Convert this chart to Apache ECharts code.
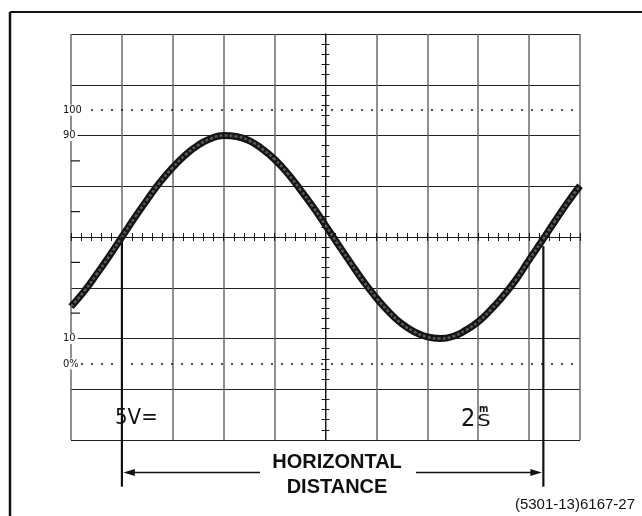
<!DOCTYPE html>
<html>
<head>
<meta charset="utf-8">
<title>Horizontal distance</title>
<script src="https://cdn.jsdelivr.net/npm/echarts@6.0.0/dist/echarts.min.js"></script>
<style>
html, body { margin: 0; padding: 0; background: #fff; }
#scope { width: 642px; height: 516px; }
</style>
</head>
<body>
<div id="scope"></div>
<script>
const traceX = [-5, -4.75, -4.5, -4.25, -4, -3.75, -3.5, -3.25, -3, -2.75, -2.5, -2.25, -2, -1.75, -1.5, -1.25, -1, -0.75, -0.5, -0.25,
  0, 0.25, 0.5, 0.75, 1, 1.25, 1.5, 1.75, 2, 2.25, 2.5, 2.75, 3, 3.25, 3.5, 3.75, 4, 4.25, 4.5, 4.75, 5];
const traceY = [-1.37, -1.08, -0.74, -0.38, 0.0, 0.38, 0.74, 1.08, 1.37, 1.62, 1.81, 1.94, 2.0, 1.98, 1.9, 1.74, 1.53, 1.26, 0.94, 0.6,
  0.23, -0.15, -0.52, -0.88, -1.2, -1.48, -1.71, -1.87, -1.97, -2.0, -1.96, -1.84, -1.67, -1.43, -1.15, -0.83, -0.45, -0.08, 0.3, 0.67, 1.01];
// percent marks at the left edge
const levelValues = [2.5, 2, -2, -2.5];
const levelLabels = ["100", "90", "10", "0%"];
// the two measuring verticals and the arrow between them
const markerX = [-4.0, 4.28];
const markerTop = [0, -0.18];
const markerBottom = -4.92;
const arrowY = -4.64;
const edgeTicks = [1.5, 0.5, -0.5, -1.5];

const ink = "#1a1a1a";

function centreAxis(position, splitColor, splitWidth) {
  return {
    type: "value",
    min: -5,
    max: 5,
    interval: 1,
    position: position,
    axisLine: { show: true, onZero: true, lineStyle: { color: ink, width: 1 } },
    axisTick: { show: true, length: 4, lineStyle: { color: ink, width: 1 } },
    minorTick: { show: true, splitNumber: 5, length: 4, lineStyle: { color: ink, width: 1 } },
    axisLabel: { show: false },
    splitLine: { show: !!splitColor, lineStyle: { color: splitColor || ink, width: splitWidth || 1 } },
  };
}

const chart = echarts.init(document.getElementById("scope"));

const points = traceX.map((x, i) => [x, traceY[i]]);

const option = {
  animation: false,
  backgroundColor: "#fff",
  grid: { left: 71, top: 34, right: 62, bottom: 76 },
  xAxis: [centreAxis("bottom", "#6a6a6a", 1.5), centreAxis("top")],
  yAxis: [
    Object.assign(centreAxis("left", "#222", 1), { min: -4, max: 4 }),
    Object.assign(centreAxis("right"), { min: -4, max: 4 }),
  ],
  series: [
    {
      type: "line",
      data: points,
      smooth: true,
      symbol: "none",
      clip: false,
      z: 3,
      lineStyle: { color: "#141414", width: 7 },
      markLine: {
        silent: true,
        symbol: ["none", "none"],
        label: { show: false },
        lineStyle: { type: [2, 8], color: ink, width: 1.6 },
        data: [{ yAxis: levelValues[0] }, { yAxis: levelValues[3] }],
      },
    },
    {
      type: "line",
      data: points,
      smooth: true,
      symbol: "none",
      clip: false,
      z: 4,
      lineStyle: { color: "#5a5a5a", width: 2.5, type: [3, 2] },
    },
  ],
};

chart.setOption(option);

const px = (x, y) => chart.convertToPixel({ seriesIndex: 0 }, [x, y]);

function text(x, y, str, font, align, extra) {
  return Object.assign({
    type: "text",
    x: x,
    y: y,
    z: 20,
    style: {
      text: str,
      font: font,
      fill: "#111",
      align: align,
      textAlign: align,
      verticalAlign: "middle",
      textVerticalAlign: "middle",
    },
  }, extra || {});
}

const g = [];
// outer frame (top and left only)
g.push({ type: "line", z: 20, shape: { x1: 10, y1: 12, x2: 642, y2: 12 }, style: { stroke: "#111", lineWidth: 2 } });
g.push({ type: "line", z: 20, shape: { x1: 10, y1: 12, x2: 10, y2: 516 }, style: { stroke: "#111", lineWidth: 2.5 } });

// small marks on the left edge
edgeTicks.forEach((v) => {
  const p = px(-5, v);
  g.push({ type: "line", z: 20, shape: { x1: p[0], y1: p[1], x2: p[0] + 9, y2: p[1] }, style: { stroke: ink, lineWidth: 1.2 } });
});

// percent labels
levelValues.forEach((v, i) => {
  const p = px(-5, v);
  const t = text(63, p[1], levelLabels[i], "11px 'Liberation Sans Narrow', 'DejaVu Sans Condensed', sans-serif", "left");
  t.style.backgroundColor = "#fff";
  t.style.padding = [0, 2, 0, 0];
  g.push(t);
});

// measuring verticals
markerX.forEach((x, i) => {
  const a = px(x, markerTop[i]);
  const b = px(x, markerBottom);
  g.push({ type: "line", z: 20, shape: { x1: a[0], y1: a[1], x2: b[0], y2: b[1] }, style: { stroke: "#111", lineWidth: 2.2 } });
});

// arrows
const la = px(markerX[0], arrowY);
const ra = px(markerX[1], arrowY);
const ay = la[1];
g.push({ type: "line", z: 20, shape: { x1: la[0] + 10, y1: ay, x2: 260, y2: ay }, style: { stroke: "#111", lineWidth: 1.6 } });
g.push({ type: "polygon", z: 20, shape: { points: [[la[0] + 1.5, ay], [la[0] + 13, ay - 3.5], [la[0] + 13, ay + 3.5]] }, style: { fill: "#111" } });
g.push({ type: "line", z: 20, shape: { x1: 416, y1: ay, x2: ra[0] - 10, y2: ay }, style: { stroke: "#111", lineWidth: 1.6 } });
g.push({ type: "polygon", z: 20, shape: { points: [[ra[0] - 1.5, ay], [ra[0] - 13, ay - 3.5], [ra[0] - 13, ay + 3.5]] }, style: { fill: "#111" } });

g.push(text(337, 462, "HORIZONTAL", "bold 20px 'Liberation Sans', Arial, sans-serif", "center"));
g.push(text(337, 487, "DISTANCE", "bold 20px 'Liberation Sans', Arial, sans-serif", "center"));

// scope readouts
g.push(text(115, 418, "5V=", "22px 'DejaVu Sans Condensed', 'DejaVu Sans', sans-serif", "left"));
g.push(text(461, 419, "2", "25px 'DejaVu Sans Condensed', 'DejaVu Sans', sans-serif", "left"));
g.push(text(479, 409, "m", "bold 10px 'DejaVu Sans Condensed', sans-serif", "left"));
g.push(text(477, 422, "S", "16px 'DejaVu Sans Condensed', sans-serif", "left", { scaleX: 1.5 }));

g.push(text(635, 505, "(5301-13)6167-27", "15px 'Liberation Sans', Arial, sans-serif", "right"));

chart.setOption({ graphic: g });

window.addEventListener("resize", () => {
  chart.resize();
});
</script>
</body>
</html>
